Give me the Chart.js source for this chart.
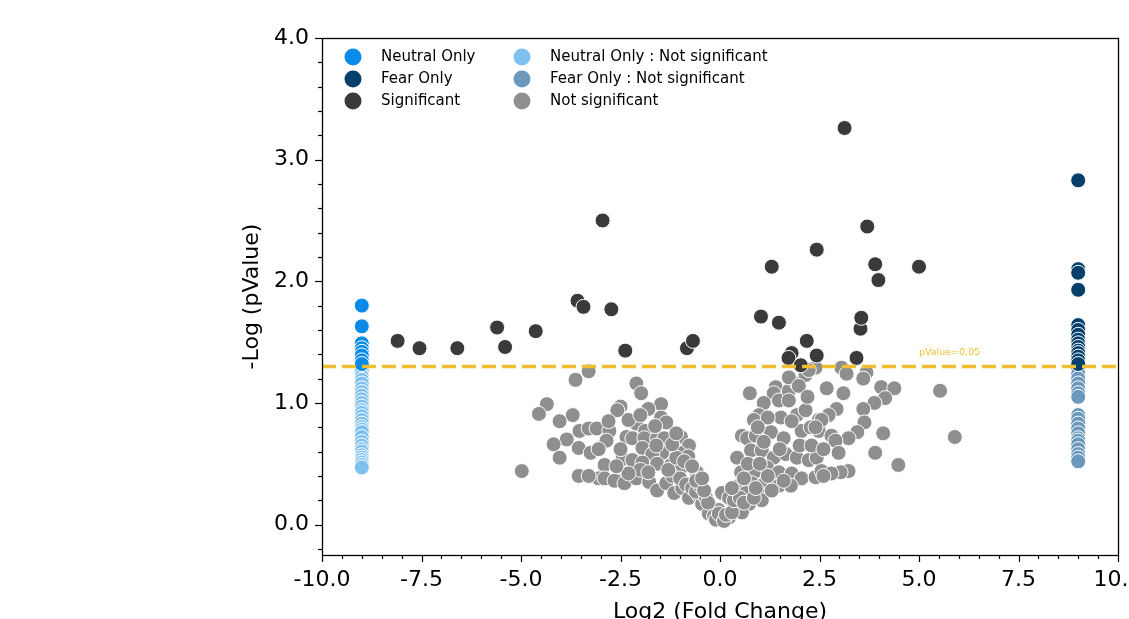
<!DOCTYPE html>
<html>
<head>
<meta charset="utf-8">
<script src="https://cdn.jsdelivr.net/npm/chart.js@4.4.1/dist/chart.umd.min.js"></script>
<style>
  html, body { margin: 0; padding: 0; background: #fff; }
  canvas { display: block; }
</style>
</head>
<body>
<canvas id="volcano" width="1129" height="619"></canvas>
<script>
//
// DATEN
//
const xTicks = [-10, -7.5, -5, -2.5, 0, 2.5, 5, 7.5, 10];
const yTicks = [0, 1, 2, 3, 4];
const pThreshold = 1.3;           // -log10(0.05)
const thresholdLabel = "pValue=0.05";
const thresholdLabelPos = [5.0, 1.39];

// Spalten ganz links / rechts (nur in einer Gruppe gefunden)
const neutralX = -9;
const fearX = 9;

const neutralOnlyY = [1.80, 1.63, 1.49, 1.45, 1.42, 1.39, 1.35, 1.32];
const neutralOnlyNsY = [1.27, 1.22, 1.19, 1.16, 1.12, 1.09, 1.06, 1.03, 1.00, 0.97, 0.94, 0.92, 0.89,
  0.86, 0.83, 0.80, 0.78, 0.76, 0.72, 0.68, 0.65, 0.62, 0.60, 0.57, 0.55, 0.53, 0.51, 0.49, 0.47];
const fearOnlyY = [2.83, 2.10, 2.07, 1.93, 1.64, 1.60, 1.56, 1.52, 1.49, 1.46, 1.43, 1.41, 1.38, 1.35, 1.32];
const fearOnlyNsY = [1.28, 1.24, 1.20, 1.16, 1.12, 1.08, 1.05, 0.90, 0.87, 0.83, 0.79, 0.75, 0.71,
  0.69, 0.66, 0.62, 0.58, 0.55, 0.52];

// [log2 fold change, -log pValue]
const significant = [
  [-8.10, 1.51], [-7.55, 1.45], [-6.60, 1.45], [-5.60, 1.62], [-5.40, 1.46], [-4.63, 1.59],
  [-3.58, 1.84], [-3.43, 1.79], [-2.73, 1.77], [-2.95, 2.50], [-2.38, 1.43], [-0.83, 1.45],
  [-0.68, 1.51], [1.03, 1.71], [1.30, 2.12], [1.48, 1.66], [2.18, 1.51], [2.43, 2.26],
  [3.13, 3.26], [3.43, 1.37], [3.53, 1.61], [3.55, 1.70], [3.70, 2.45], [3.90, 2.14],
  [3.98, 2.01], [5.00, 2.12], [1.80, 1.41], [1.72, 1.37], [2.43, 1.39], [2.03, 1.31]
];

const notSignificant = [
  // links
  [-3.30, 1.26], [-3.63, 1.19], [-4.35, 0.99], [-4.55, 0.91], [-3.70, 0.90], [-4.03, 0.85],
  [-3.53, 0.77], [-3.30, 0.79], [-3.10, 0.79], [-2.78, 0.77], [-2.85, 0.69], [-3.85, 0.70],
  [-4.18, 0.66], [-3.55, 0.63], [-3.25, 0.59], [-3.05, 0.62], [-4.03, 0.55], [-2.90, 0.49],
  [-4.98, 0.44], [-3.55, 0.40], [-3.05, 0.38], [-2.90, 0.38], [-2.58, 0.36], [-2.53, 0.96],
  [-2.10, 1.16], [-1.98, 1.08], [-2.50, 0.97], [-2.58, 0.94], [-1.48, 0.99], [-1.48, 0.88],
  [-1.35, 0.84], [-2.10, 0.83], [-1.88, 0.77], [-2.35, 0.72], [-2.20, 0.71], [-1.90, 0.71],
  [-1.58, 0.71], [-1.40, 0.71], [-0.98, 0.72], [-0.78, 0.65], [-1.95, 0.63], [-1.45, 0.59],
  [-1.70, 0.58], [-1.03, 0.59], [-0.80, 0.56], [-2.45, 0.54], [-2.20, 0.53], [-1.95, 0.51],
  [-1.58, 0.50], [-1.23, 0.49], [-0.98, 0.47], [-0.58, 0.43], [-2.65, 0.36], [-2.40, 0.34],
  [-2.10, 0.38], [-1.78, 0.35], [-1.58, 0.28], [-1.35, 0.34], [-1.15, 0.26], [-0.95, 0.30],
  [-0.78, 0.22], [-0.53, 0.24], [-0.45, 0.17], [-0.20, 0.14], [-0.28, 0.09], [-0.03, 0.12],
  [-1.20, 0.40], [-1.00, 0.38], [-0.85, 0.33], [-0.70, 0.30], [-0.60, 0.27], [-0.50, 0.32],
  [-0.35, 0.22], [-0.30, 0.18], [-0.15, 0.07], [-0.10, 0.04], [-0.60, 0.36], [-0.40, 0.28],
  [-1.30, 0.45], [-1.10, 0.55], [-0.90, 0.52], [-0.70, 0.48], [-0.45, 0.38], [-2.00, 0.45],
  [-1.80, 0.43], [-2.30, 0.42], [-2.60, 0.48], [-1.60, 0.65], [-1.20, 0.66], [-1.80, 0.95],
  [-2.30, 0.86], [-2.80, 0.85], [-1.10, 0.75], [-2.50, 0.62], [-3.30, 0.40], [-2.00, 0.90],
  [-1.63, 0.81],
  // rechts
  [0.75, 1.08], [1.40, 1.13], [1.35, 1.08], [1.48, 1.02], [1.73, 1.10], [1.93, 1.16],
  [2.15, 1.23], [2.40, 1.29], [1.10, 1.00], [1.73, 1.02], [0.98, 0.90], [0.85, 0.86],
  [1.53, 0.88], [1.93, 0.90], [2.15, 0.94], [2.48, 0.86], [0.55, 0.73], [0.68, 0.71],
  [0.90, 0.73], [1.28, 0.76], [1.60, 0.71], [2.05, 0.77], [2.28, 0.80], [2.48, 0.77],
  [0.43, 0.55], [0.78, 0.61], [1.05, 0.61], [1.35, 0.55], [1.65, 0.58], [1.93, 0.55],
  [2.23, 0.53], [2.43, 0.55], [0.53, 0.43], [0.90, 0.44], [1.18, 0.47], [1.48, 0.43],
  [1.80, 0.42], [2.05, 0.38], [2.40, 0.39], [2.55, 0.44], [0.48, 0.32], [0.80, 0.34],
  [1.15, 0.35], [1.48, 0.32], [1.78, 0.32], [0.05, 0.26], [0.23, 0.22], [0.65, 0.26],
  [0.98, 0.26], [0.40, 0.14], [0.73, 0.17], [1.05, 0.20], [-0.03, 0.09], [0.23, 0.06],
  [0.55, 0.10], [1.73, 1.21], [1.98, 1.14], [2.23, 1.27], [3.05, 1.29], [3.18, 1.24],
  [3.68, 1.25], [3.60, 1.20], [2.68, 1.12], [3.10, 1.08], [4.05, 1.13], [4.38, 1.12],
  [4.15, 1.04], [3.88, 1.00], [3.60, 0.95], [5.53, 1.10], [2.93, 0.95], [2.73, 0.90],
  [2.55, 0.86], [2.40, 0.80], [3.63, 0.84], [3.45, 0.76], [3.23, 0.71], [4.10, 0.75],
  [2.80, 0.73], [2.90, 0.69], [2.98, 0.59], [3.90, 0.59], [4.48, 0.49], [3.23, 0.44],
  [3.03, 0.43], [2.80, 0.42], [2.60, 0.40], [5.90, 0.72],
  [0.10, 0.03], [0.15, 0.08], [0.30, 0.10], [0.35, 0.20], [0.50, 0.22], [0.60, 0.18],
  [0.85, 0.22], [0.90, 0.30], [1.30, 0.28], [1.60, 0.36], [1.20, 0.40], [0.60, 0.38],
  [0.30, 0.30], [0.70, 0.50], [1.00, 0.50], [2.00, 0.65], [1.80, 0.85], [1.20, 0.88],
  [2.30, 0.65], [1.50, 0.62], [0.95, 0.80], [2.60, 0.62], [2.20, 1.05], [1.10, 0.68]
];

const colors = {
  neutralOnly: "#0a8be8",
  fearOnly: "#053f6b",
  significant: "#3a3a3a",
  neutralOnlyNs: "#7ec0f0",
  fearOnlyNs: "#6a99bd",
  notSignificant: "#8f8f8f",
  threshold: "#f0be32"
};

const FONT = "DejaVu Sans";

//
// HILFSFUNKTIONEN
//
const toPoints = pairs => pairs.map(p => ({ x: p[0], y: p[1] }));
const column = (x, ys) => ys.map(y => ({ x: x, y: y }));

function scatterSet(label, data, color, order) {
  return {
    type: "scatter",
    label: label,
    data: data,
    backgroundColor: color,
    borderColor: "#ffffff",
    borderWidth: 1,
    pointRadius: 7.5,
    order: order
  };
}

//
// PLUGIN: Rahmen, Ticks, Legende, Beschriftung der Schwelle
//
const decorPlugin = {
  id: "decor",
  afterDatasetsDraw(chart) {
    const ctx = chart.ctx;
    const xs = chart.scales.x;
    const ys = chart.scales.y;
    ctx.save();
    ctx.fillStyle = colors.threshold;
    ctx.font = "9.5px '" + FONT + "'";
    ctx.textAlign = "left";
    ctx.textBaseline = "alphabetic";
    ctx.fillText(thresholdLabel, xs.getPixelForValue(thresholdLabelPos[0]), ys.getPixelForValue(thresholdLabelPos[1]));
    ctx.restore();
  },
  afterDraw(chart) {
    const ctx = chart.ctx;
    const { left, right, top, bottom } = chart.chartArea;
    const xs = chart.scales.x;
    const ys = chart.scales.y;

    ctx.save();
    ctx.strokeStyle = "#000";
    ctx.lineWidth = 1.2;

    // x-Ticks (Haupt alle 2.5, Neben alle 0.5)
    for (let i = -20; i <= 20; i++) {
      const px = Math.round(xs.getPixelForValue(i * 0.5)) + 0.5;
      const len = i % 5 === 0 ? 7 : 4;
      ctx.beginPath();
      ctx.moveTo(px, bottom);
      ctx.lineTo(px, bottom + len);
      ctx.stroke();
    }
    // y-Ticks (Haupt alle 1.0, Neben alle 0.2)
    for (let i = -1; i <= 20; i++) {
      const py = Math.round(ys.getPixelForValue(i * 0.2)) + 0.5;
      const len = i % 5 === 0 ? 7 : 4;
      ctx.beginPath();
      ctx.moveTo(left - len, py);
      ctx.lineTo(left, py);
      ctx.stroke();
    }

    // Rahmen
    ctx.lineWidth = 1.3;
    ctx.strokeRect(Math.round(left) + 0.5, Math.round(top) + 0.5, Math.round(right - left), Math.round(bottom - top));

    // Legende: zwei Spalten, drei Zeilen
    const legendCols = [353, 522];
    const legendRows = [57, 79, 101];
    const entries = chart.data.datasets.filter(d => d.legendSlot !== undefined);
    ctx.font = "15px '" + FONT + "'";
    ctx.textBaseline = "middle";
    ctx.textAlign = "left";
    entries.forEach(d => {
      const cx = legendCols[d.legendSlot[0]];
      const cy = legendRows[d.legendSlot[1]];
      ctx.beginPath();
      ctx.arc(cx, cy, 8.5, 0, Math.PI * 2);
      ctx.fillStyle = d.backgroundColor;
      ctx.fill();
      ctx.fillStyle = "#000";
      ctx.fillText(d.label, cx + 28, cy);
    });
    ctx.restore();
  }
};

//
// CHART
//
const ds = [
  {
    type: "line",
    label: "threshold",
    data: [{ x: -10, y: pThreshold }, { x: 10, y: pThreshold }],
    borderColor: colors.threshold,
    borderWidth: 3.5,
    borderDash: [14, 6],
    pointRadius: 0,
    order: 0
  },
  scatterSet("Neutral Only", column(neutralX, neutralOnlyY), colors.neutralOnly, 1),
  scatterSet("Fear Only", column(fearX, fearOnlyY), colors.fearOnly, 2),
  scatterSet("Significant", toPoints(significant), colors.significant, 3),
  scatterSet("Neutral Only : Not significant", column(neutralX, neutralOnlyNsY), colors.neutralOnlyNs, 4),
  scatterSet("Fear Only : Not significant", column(fearX, fearOnlyNsY), colors.fearOnlyNs, 5),
  scatterSet("Not significant", toPoints(notSignificant), colors.notSignificant, 6)
];
ds[1].legendSlot = [0, 0];
ds[2].legendSlot = [0, 1];
ds[3].legendSlot = [0, 2];
ds[4].legendSlot = [1, 0];
ds[5].legendSlot = [1, 1];
ds[6].legendSlot = [1, 2];

const tickFont = { family: FONT, size: 22 };

new Chart(document.getElementById("volcano"), {
  type: "scatter",
  data: { datasets: ds },
  options: {
    responsive: false,
    animation: false,
    devicePixelRatio: 1,
    events: [],
    layout: { padding: { left: 239, right: 11, top: 38, bottom: 0 } },
    plugins: {
      legend: { display: false },
      tooltip: { enabled: false }
    },
    scales: {
      x: {
        type: "linear",
        min: -10,
        max: 10,
        afterBuildTicks: s => { s.ticks = xTicks.map(v => ({ value: v })); },
        afterFit: s => { s.height = 64; s.paddingLeft = 0; s.paddingRight = 0; },
        grid: { display: false, drawTicks: false },
        border: { display: false },
        ticks: {
          color: "#000",
          font: tickFont,
          padding: 12,
          maxRotation: 0,
          autoSkip: false,
          callback: v => Number(v).toFixed(1)
        },
        title: {
          display: true,
          text: "Log2 (Fold Change)",
          color: "#000",
          font: tickFont,
          padding: { top: 0, bottom: -6 }
        }
      },
      y: {
        type: "linear",
        min: -0.25,
        max: 4.0,
        afterBuildTicks: s => { s.ticks = yTicks.map(v => ({ value: v })); },
        afterFit: s => { s.width = 83; },
        grid: { display: false, drawTicks: false },
        border: { display: false },
        ticks: {
          color: "#000",
          font: tickFont,
          padding: 13,
          autoSkip: false,
          callback: v => Number(v).toFixed(1)
        },
        title: {
          display: true,
          text: "-Log (pValue)",
          color: "#000",
          font: tickFont,
          padding: { top: 0, bottom: 0 }
        }
      }
    }
  },
  plugins: [decorPlugin]
});
</script>
</body>
</html>
